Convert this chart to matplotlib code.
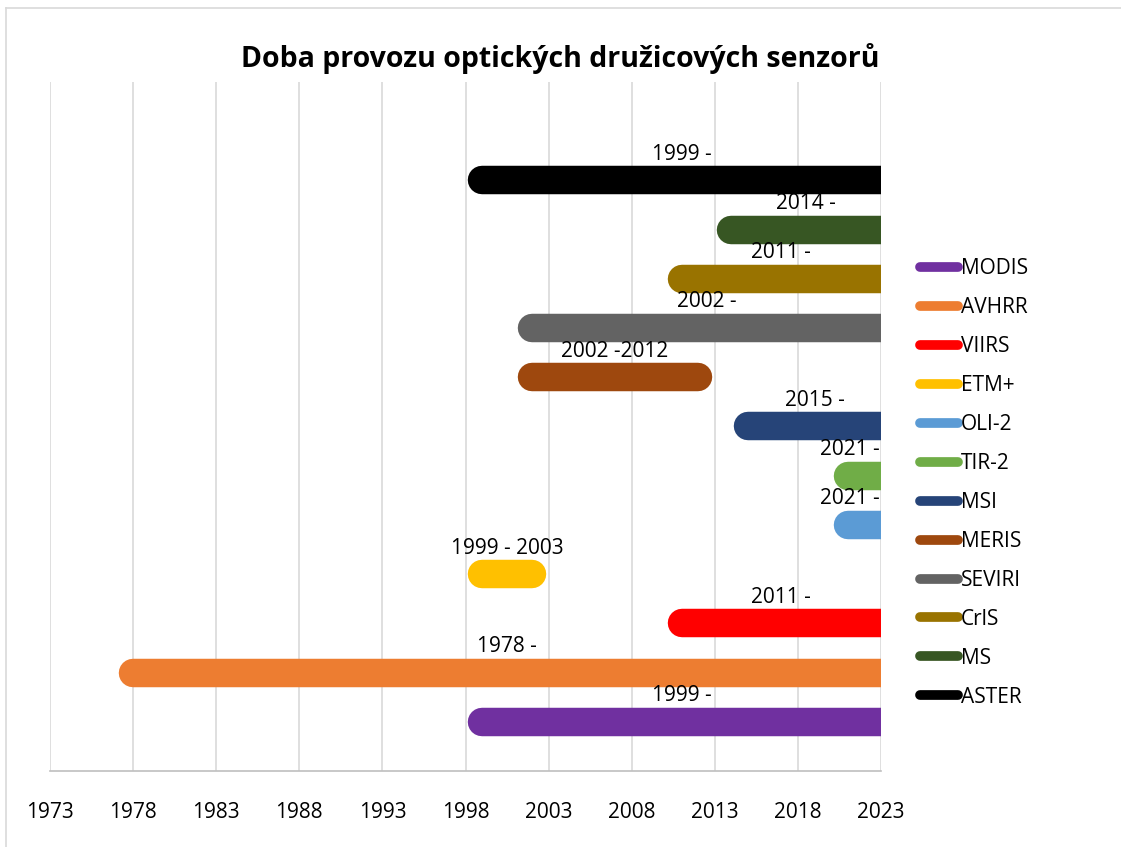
import matplotlib.pyplot as plt
from matplotlib.lines import Line2D

plt.rcParams['font.family'] = ['Open Sans', 'DejaVu Sans']

# senzory (odspodu nahoru, stejne poradi jako legenda)
sensors = ["MODIS", "AVHRR", "VIIRS", "ETM+", "OLI-2", "TIR-2",
           "MSI", "MERIS", "SEVIRI", "CrIS", "MS", "ASTER"]
legend_names = ["MODIS", "AVHRR", "VIIRS", "ETM+", "OLI-2", "TIR-2",
                "MSI", "MERIS", "SEVIRI", "CrlS", "MS", "ASTER"]
start = [1999, 1978, 2011, 1999, 2021, 2021, 2015, 2002, 2002, 2011, 2014, 1999]
end = [None, None, None, 2002, None, None, None, 2012, None, None, None, None]
labels = ["1999 -", "1978 -", "2011 -", "1999 - 2003", "2021 -", "2021 -",
          "2015 -", "2002 -2012", "2002 -", "2011 -", "2014 -", "1999 -"]
colors = ["#7030A0", "#ED7D31", "#FF0000", "#FFC000", "#5B9BD5", "#70AD47",
          "#264478", "#9E480E", "#636363", "#997300", "#375623", "#000000"]

years = list(range(1973, 2024, 5))
x_min, x_max = 1973, 2023

fig = plt.figure(figsize=(11.21, 8.47), dpi=100)
ax = fig.add_axes([50 / 1121, 76 / 847, 831 / 1121, 689 / 847])

handles = []
for i, name in enumerate(sensors):
    row = i + 1
    x1 = end[i] if end[i] is not None else x_max + 2
    ax.plot([start[i], x1], [row, row], color=colors[i], lw=20.5,
            solid_capstyle='round', zorder=3)
    # popisek nad useckou, uprostred viditelne casti
    vis_end = min(x1, x_max)
    cx = (start[i] + vis_end) / 2
    cx = min(cx, x_max - 1.9)
    ax.text(cx, row + 0.53, labels[i], ha='center', va='center',
            fontsize=15, color='#000000', zorder=4)
    handles.append(Line2D([], [], color=colors[i], lw=7, solid_capstyle='round'))

ax.set_xlim(x_min, x_max)
ax.set_ylim(0, 14)
ax.set_xticks(years)
ax.set_xticklabels([str(y) for y in years], fontsize=15)
ax.set_yticks([])
ax.tick_params(axis='x', length=0, pad=22, colors='#000000')
ax.grid(axis='x', color='#D9D9D9', lw=1.2, zorder=0)
for s in ['top', 'right', 'left']:
    ax.spines[s].set_visible(False)
ax.spines['bottom'].set_color('#BFBFBF')
ax.spines['bottom'].set_linewidth(1.2)

fig.text(0.5, 1 - 58 / 847, "Doba provozu optických družicových senzorů",
         ha='center', va='center', fontsize=20.5, fontweight='bold')

fig.legend(handles, legend_names, loc='center left',
           bbox_to_anchor=(901 / 1121, 1 - 483 / 847), frameon=False,
           fontsize=15, handlelength=1.83, handletextpad=0.15,
           labelspacing=0.86)

# ramecek grafu
fig.add_artist(Line2D([6 / 1121, 1], [1 - 8 / 847, 1 - 8 / 847],
                      color='#D9D9D9', lw=1.2, transform=fig.transFigure))
fig.add_artist(Line2D([6 / 1121, 6 / 1121], [0, 1 - 8 / 847],
                      color='#D9D9D9', lw=1.2, transform=fig.transFigure))

fig.savefig("out.png", dpi=100)
